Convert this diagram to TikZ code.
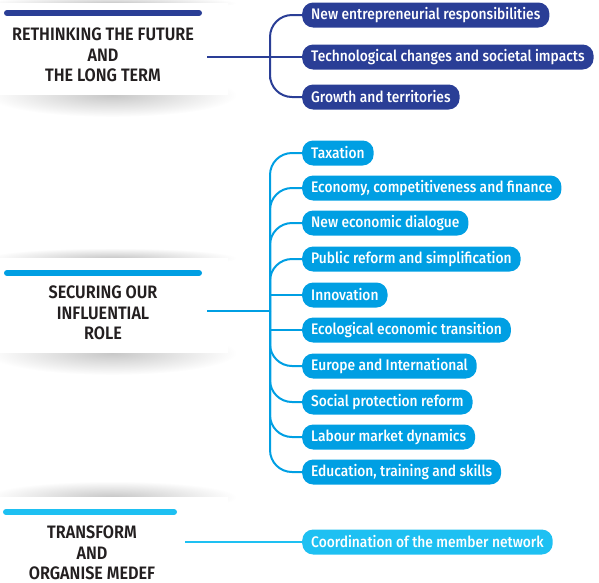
\documentclass[tikz,border=0pt]{standalone}
\usepackage{fontspec}
\setmainfont{Fira Sans}[UprightFont={* Medium}, BoldFont={* SemiBold}]
\newfontfamily\pillfont{Fira Sans}[UprightFont={* Medium}, FakeStretch=0.9]
\newfontfamily\titlefont{Fira Sans}[UprightFont={* SemiBold}, FakeStretch=0.9]

\definecolor{navy}{RGB}{42,62,150}
\definecolor{skyblue}{RGB}{0,159,227}
\definecolor{lightsky}{RGB}{30,192,242}
\definecolor{heading}{RGB}{35,31,32}

\tikzset{%
  % Specifications for style of nodes:
         pill/.style = {rectangle, rounded corners=11pt, anchor=west, minimum height=25pt, inner xsep=9pt, inner ysep=0pt, text=white, font=\pillfont\fontsize{15.3}{15}\selectfont},
        title/.style = {align=center, inner sep=0pt, text=heading, font=\titlefont\fontsize{18}{20.5}\selectfont},
  % Specifications for style of lines:
       branch/.style = {line width=2pt, rounded corners=22pt},
          bar/.style = {line width=6pt, line cap=round},
  % Soft shadows round the white cards
       shadow/.style = {inner color=black!22, outer color=white},
}

\begin{document}
\begin{tikzpicture}[x=1pt, y=-1pt]
    \useasboundingbox (0,0) rectangle (599,582);

    % Draw cards
    \shade[shadow] (112,3) ellipse (125 and 7);
    \shade[shadow] (112,95) ellipse (125 and 22);
    \fill[white] (0,3) rectangle (228,95);

    \shade[shadow] (112,258) ellipse (125 and 10);
    \shade[shadow] (112,353) ellipse (125 and 22);
    \fill[white] (0,258) rectangle (228,353);

    \shade[shadow] (112,497) ellipse (125 and 16);
    \fill[white] (0,497) rectangle (228,582);

    \draw[bar, navy]     (7,13) -- (199,13);
    \draw[bar, skyblue]  (7,273) -- (199,273);
    \draw[bar, lightsky] (6,512) -- (174,512);

    % Draw titles
    \node (future)    [title] at (103,55)  {RETHINKING THE FUTURE\\AND\\THE LONG TERM};
    \node (influence) [title] at (103,313) {SECURING OUR\\INFLUENTIAL\\ROLE};
    \node (transform) [title] at (92,553)  {TRANSFORM\\AND\\ORGANISE MEDEF};

    \coordinate (out1) at (207,57);
    \coordinate (hub1) at (270,57);
    \coordinate (out2) at (207,311);
    \coordinate (hub2) at (270,311);
    \coordinate (out3) at (185,542);

    % Draw pills
    \node (newresp)    [pill, fill=navy] at (302,15) {New entrepreneurial responsibilities};
    \node (techchange) [pill, fill=navy] at (302,57) {Technological changes and societal impacts};
    \node (growth)     [pill, fill=navy] at (302,97) {Growth and territories};

    \node (taxation)   [pill, fill=skyblue] at (302,153) {Taxation};
    \node (economy)    [pill, fill=skyblue] at (302,188) {Economy, competitiveness and finance};
    \node (dialogue)   [pill, fill=skyblue] at (302,223) {New economic dialogue};
    \node (public)     [pill, fill=skyblue] at (302,259) {Public reform and simplification};
    \node (innovation) [pill, fill=skyblue] at (302,295) {Innovation};
    \node (ecology)    [pill, fill=skyblue] at (302,330) {Ecological economic transition};
    \node (europe)     [pill, fill=skyblue] at (302,366) {Europe and International};
    \node (social)     [pill, fill=skyblue] at (302,402) {Social protection reform};
    \node (labour)     [pill, fill=skyblue] at (302,437) {Labour market dynamics};
    \node (education)  [pill, fill=skyblue] at (302,472) {Education, training and skills};

    \node (network)    [pill, fill=lightsky] at (302,542) {Coordination of the member network};

    % Draw lines
    \draw[branch, navy] (newresp.west) -| (hub1) |- (growth.west);
    \draw[branch, navy] (out1) -- (techchange.west);

    \draw[branch, skyblue] (taxation.west) -| (hub2) |- (education.west);
    \draw[branch, skyblue] (economy.west) -| (hub2);
    \draw[branch, skyblue] (dialogue.west) -| (hub2);
    \draw[branch, skyblue] (public.west) -| (hub2);
    \draw[branch, skyblue] (innovation.west) -- (innovation.west -| hub2);
    \draw[branch, skyblue] (ecology.west) -- (ecology.west -| hub2);
    \draw[branch, skyblue] (europe.west) -| (hub2);
    \draw[branch, skyblue] (social.west) -| (hub2);
    \draw[branch, skyblue] (labour.west) -| (hub2);
    \draw[branch, skyblue] (out2) -- (hub2);

    \draw[branch, lightsky] (out3) -- (network.west);
\end{tikzpicture}
\end{document}
